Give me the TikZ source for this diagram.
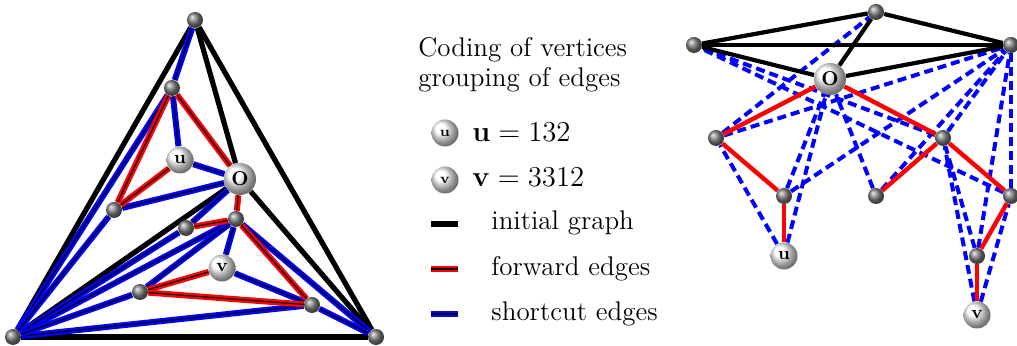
\documentclass[tikz,border=0pt]{standalone}
\usepackage{amsmath,amssymb}
\usepackage{tikz}
\usetikzlibrary{positioning}

\pgfdeclarelayer{background}
\pgfsetlayers{background,main}

\begin{document}
\begin{tikzpicture}[x=0.5pt, y=-0.5pt,
  vtx/.style={circle, ball color=gray, minimum size=8pt, inner sep=0pt},
  bigvtx/.style={circle, ball color=white, minimum size=16pt, inner sep=0pt, font=\normalsize\bfseries},
  lblvtx/.style={circle, ball color=white, minimum size=13.5pt, inner sep=0pt, font=\small\bfseries},
  keyvtx/.style={circle, ball color=white, minimum size=13.5pt, inner sep=0pt, font=\scriptsize\bfseries},
  init/.style={line width=2.6pt},
  fwd/.style={draw=red, double=black, double distance=0.6pt, line width=1.2pt},
  short/.style={draw=blue, double=black, double distance=0.6pt, line width=1.2pt},
  tinit/.style={line width=2.1pt},
  tfwd/.style={red, line width=2.2pt},
  tshort/.style={blue, line width=2pt, dash pattern=on 4.5pt off 2.5pt},
  txt/.style={font=\fontsize{13.5}{16}\selectfont, anchor=base west, inner sep=0pt}
]
\useasboundingbox (0,0) rectangle (1017,346);

% left: the triangulation
\node[vtx] (lT) at (195,20) {};
\node[vtx] (lL) at (13,337) {};
\node[vtx] (lR) at (376,337) {};
\node[bigvtx] (lO) at (240,179) {O};
\node[vtx] (la) at (172,88) {};
\node[lblvtx] (lu) at (180,160) {u};
\node[vtx] (lb) at (114,210) {};
\node[vtx] (lc) at (236,219) {};
\node[vtx] (ld) at (186,228) {};
\node[lblvtx] (lv) at (222,268) {v};
\node[vtx] (le) at (140,292) {};
\node[vtx] (lf) at (312,305) {};

\begin{pgfonlayer}{background}
\foreach \a/\b in {lT/lL, lT/lR, lL/lR, lT/lO, lO/lR, lO/lL}
  \draw[init] (\a) -- (\b);
\foreach \a/\b in {la/lT, la/lL, lb/lL, lb/lO, lu/la, lu/lO, lc/lL, lc/lR,
                   ld/lO, ld/lL, lf/lL, lf/lR, le/lc, le/lL, lv/lc, lv/lf}
  \draw[short] (\a) -- (\b);
\foreach \a/\b in {lO/la, la/lb, lb/lu, lO/lc, lc/ld, lc/lf, lf/le, le/lv}
  \draw[fwd] (\a) -- (\b);
\end{pgfonlayer}

% legend
\node[txt] (head1) at (418,57) {Coding of vertices};
\node[txt] (head2) at (418,87) {grouping of edges};
\node[keyvtx] (ku) at (445,133) {u};
\node[keyvtx] (kv) at (445,180) {v};
\node[txt] (tu) at (472,142) {$\mathbf{u}=132$};
\node[txt] (tv) at (472,187) {$\mathbf{v}=3312$};
\coordinate (k1a) at (431,224); \coordinate (k1b) at (458,224);
\coordinate (k2a) at (431,269); \coordinate (k2b) at (458,269);
\coordinate (k3a) at (431,314); \coordinate (k3b) at (458,314);
\draw[init] (k1a) -- (k1b);
\draw[fwd] (k2a) -- (k2b);
\draw[short] (k3a) -- (k3b);
\node[txt] (t1) at (491,230) {initial graph};
\node[txt] (t2) at (491,276) {forward edges};
\node[txt] (t3) at (491,321) {shortcut edges};

% right: the tree with shortcuts
\node[vtx] (rR) at (694,45) {};
\node[vtx] (rT) at (876,12) {};
\node[vtx] (rL) at (1011,45) {};
\node[bigvtx] (rO) at (830,79) {O};
\node[vtx] (ra) at (716,138) {};
\node[vtx] (rc) at (943,138) {};
\node[vtx] (rb) at (784,196) {};
\node[vtx] (rd) at (876,196) {};
\node[vtx] (rf) at (1011,196) {};
\node[lblvtx] (ru) at (784,256) {u};
\node[vtx] (re) at (977,256) {};
\node[lblvtx] (rv) at (977,315) {v};

\begin{pgfonlayer}{background}
\foreach \a/\b in {ra/rT, ra/rL, rb/rO, rb/rL, ru/ra, ru/rO, rc/rL, rc/rR,
                   rd/rO, rd/rL, rf/rL, rf/rR, re/rc, re/rL, rv/rc, rv/rf}
  \draw[tshort] (\a) -- (\b);
\foreach \a/\b in {rR/rT, rT/rL, rR/rL, rR/rO, rL/rO, rT/rO}
  \draw[tinit] (\a) -- (\b);
\foreach \a/\b in {rO/ra, ra/rb, rb/ru, rO/rc, rc/rd, rc/rf, rf/re, re/rv}
  \draw[tfwd] (\a) -- (\b);
\end{pgfonlayer}
\end{tikzpicture}
\end{document}
